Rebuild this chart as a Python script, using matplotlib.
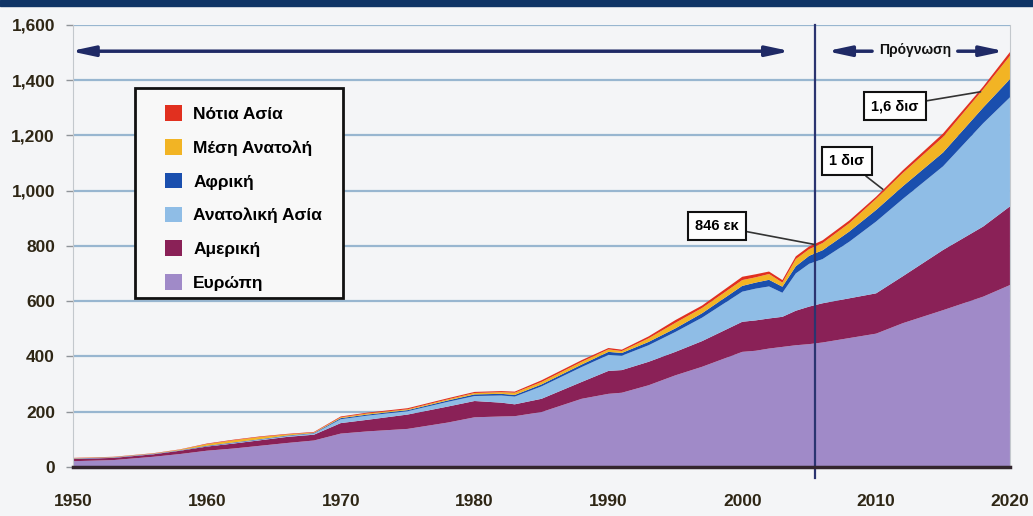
import numpy as np
import matplotlib
matplotlib.use("Agg")
import matplotlib.pyplot as plt
from matplotlib.patches import Patch, Rectangle

# data (millions)
years = [1950, 1953, 1956, 1958, 1960, 1962, 1964, 1966, 1968, 1970, 1972, 1975,
         1978, 1980, 1982, 1983, 1985, 1988, 1990, 1991, 1993, 1995, 1997, 2000,
         2001, 2002, 2003, 2004, 2005, 2006, 2008, 2010, 2012, 2015, 2018, 2020]
europe = [20, 24, 36, 46, 58, 66, 76, 86, 95, 120, 128, 137,
          160, 179, 182, 183, 198, 246, 264, 268, 295, 331, 362, 416,
          420, 428, 434, 440, 444, 450, 466, 482, 520, 567, 616, 658]
america = [8, 8, 9, 12, 15, 18, 20, 22, 21, 38, 42, 52,
           58, 59, 50, 43, 48, 61, 83, 82, 85, 85, 93, 109,
           110, 109, 109, 125, 136, 142, 144, 146, 170, 218, 254, 285]
east_asia = [1, 1, 1, 1, 1, 2, 2, 3, 4, 14, 15, 12,
             17, 18, 26, 28, 45, 54, 58, 52, 60, 72, 85, 109,
             115, 116, 87, 135, 155, 160, 205, 260, 280, 303, 374, 395]
africa = [1, 1, 1, 1, 2, 2, 2, 2, 2, 4, 4, 4,
          5, 6, 6, 6, 7, 9, 11, 10, 12, 13, 16, 21,
          22, 24, 22, 26, 29, 32, 37, 42, 46, 50, 57, 66]
middle_east = [1, 1, 1, 2, 6, 8, 8, 4, 2, 3, 4, 3,
               4, 5, 6, 8, 9, 10, 9, 7, 13, 20, 19, 21,
               19, 21, 15, 26, 24, 26, 30, 40, 48, 56, 66, 84]
south_asia = [1, 1, 1, 1, 2, 2, 2, 2, 2, 3, 3, 4,
              4, 4, 4, 4, 6, 6, 5, 5, 7, 10, 9, 12,
              11, 9, 9, 10, 10, 10, 10, 8, 10, 13, 10, 14]

labels = ["Ευρώπη", "Αμερική", "Ανατολική Ασία", "Αφρική", "Μέση Ανατολή", "Νότια Ασία"]
colors = ["#a08ac8", "#8a2157", "#8fbde6", "#1a4fae", "#f2b424", "#e1301f"]
yticks = [0, 200, 400, 600, 800, 1000, 1200, 1400, 1600]
xticks = [1950, 1960, 1970, 1980, 1990, 2000, 2010, 2020]
split_year = 2005.4

bg = "#f4f5f7"
text_font = ["Liberation Sans", "DejaVu Sans"]

fig = plt.figure(figsize=(10.33, 5.16), dpi=100, facecolor=bg)
ax = fig.add_axes([0.0707, 0.0955, 0.907, 0.8561])
ax.set_facecolor(bg)

# navy band at the top of the picture
fig.patches.append(Rectangle((0, 1 - 6 / 516), 1, 6 / 516, transform=fig.transFigure,
                             color="#0f3466", zorder=0))

for y in yticks[1:]:
    ax.axhline(y, color="#98b6d0", lw=1.6, zorder=0)

ax.stackplot(years, europe, america, east_asia, africa, middle_east, south_asia,
             colors=colors, linewidth=0, zorder=2)

ax.set_xlim(1950, 2020)
ax.set_ylim(0, 1600)
ax.set_yticks(yticks)
ax.set_yticklabels(["{:,}".format(v) for v in yticks])
ax.set_xticks(xticks)
ax.tick_params(axis="y", length=5, width=1, color="#8f9499", pad=8)
ax.tick_params(axis="x", length=0, pad=20)
for lab in ax.get_xticklabels() + ax.get_yticklabels():
    lab.set_family(text_font)
    lab.set_fontweight("bold")
    lab.set_fontsize(12.5)
    lab.set_color("#2e2615")

ax.spines["top"].set_visible(False)
ax.spines["left"].set_color("#c3c8cd")
ax.spines["right"].set_color("#c3c8cd")
ax.spines["bottom"].set_color("#33262e")
ax.spines["bottom"].set_linewidth(2.5)
ax.spines["bottom"].set_zorder(5)

# split between history and forecast
ax.axvline(split_year, ymin=-0.026, ymax=1.0, color="#2b3470", lw=1.6,
           clip_on=False, zorder=4)

arrow_kw = dict(arrowstyle="<|-|>,head_length=1.4,head_width=0.3",
                color="#1f2a66", lw=2.5, shrinkA=0, shrinkB=0)
ax.annotate("", xy=(1949.8, 1505), xytext=(2003.6, 1505),
            arrowprops=arrow_kw, annotation_clip=False)
one_kw = dict(arrowstyle="-|>,head_length=1.4,head_width=0.3",
              color="#1f2a66", lw=2.5, shrinkA=0, shrinkB=0)
ax.annotate("", xy=(2006.3, 1505), xytext=(2009.7, 1505), arrowprops=one_kw)
ax.annotate("", xy=(2019.6, 1505), xytext=(2016.1, 1505), arrowprops=one_kw)
ax.text(2012.9, 1509, "Πρόγνωση", ha="center", va="center", fontsize=10,
        fontweight="bold", family=text_font, color="#111111")

box = dict(boxstyle="square,pad=0.5", fc="white", ec="#111111", lw=1.5)
line = dict(arrowstyle="-", color="#333333", lw=1.2, shrinkA=0, shrinkB=0)
notes = [("846 εκ", (split_year, 805), (1998.1, 872)),
         ("1 δισ", (2010.5, 1005), (2007.8, 1107)),
         ("1,6 δισ", (2017.8, 1358), (2011.4, 1306))]
for txt, pt, pos in notes:
    ax.annotate(txt, xy=pt, xytext=pos, ha="center", va="center", fontsize=10.5,
                fontweight="bold", family=text_font, bbox=box, arrowprops=line,
                zorder=6)

# legend: frame drawn separately so the inner margins can match the original
ax.add_patch(Rectangle((0.0662, 0.382), 0.2219, 0.475, transform=ax.transAxes,
                       fc="#f8f8f8", ec="#111111", lw=2, zorder=6))
handles = [Patch(facecolor=c, label=l) for c, l in zip(colors, labels)][::-1]
leg = ax.legend(handles=handles, loc="upper left", bbox_to_anchor=(0.0982, 0.818),
                borderaxespad=0, borderpad=0, frameon=False, handlelength=1.0,
                handleheight=1.0, handletextpad=0.63, labelspacing=0.98,
                prop=dict(family=text_font, weight="bold", size=12.5))
leg.set_zorder(7)

fig.savefig("out.png", dpi=100, facecolor=bg)
